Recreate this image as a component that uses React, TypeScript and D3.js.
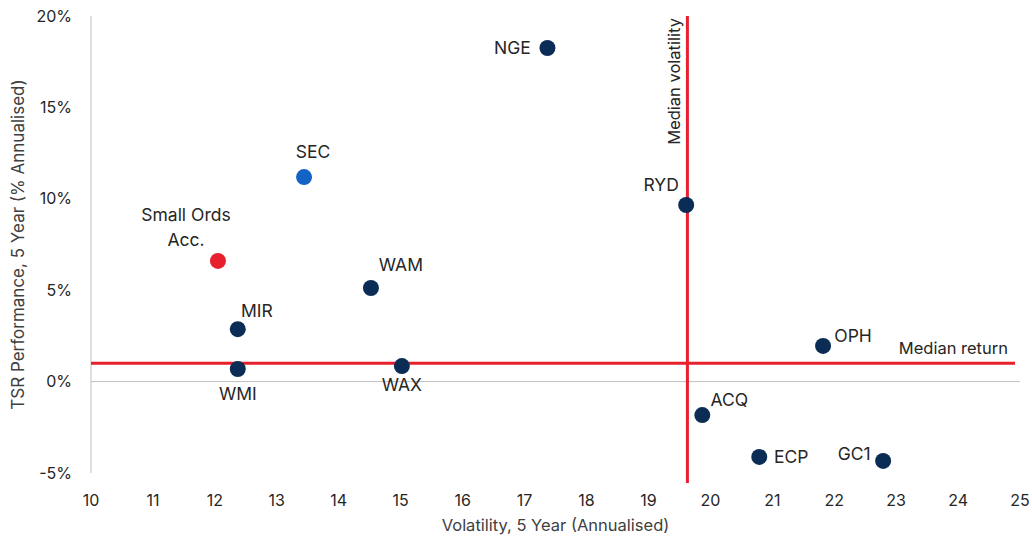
import React from "react";
import * as d3 from "d3";

const names = ["NGE", "SEC", "Small Ords Acc.", "WAM", "MIR", "WMI", "WAX", "RYD", "OPH", "ACQ", "ECP", "GC1"];
const volatility = [17.37, 13.44, 12.05, 14.52, 12.37, 12.37, 15.02, 19.61, 21.82, 19.87, 20.79, 22.79];
const tsr = [18.25, 11.19, 6.6, 5.12, 2.87, 0.69, 0.85, 9.66, 1.95, -1.83, -4.12, -4.34];
const kinds = ["peer", "sec", "index", "peer", "peer", "peer", "peer", "peer", "peer", "peer", "peer", "peer"];
const xTicks = [10, 11, 12, 13, 14, 15, 16, 17, 18, 19, 20, 21, 22, 23, 24, 25];
const yTicks = [-5, 0, 5, 10, 15, 20];
const medianVolatility = 19.63;
const medianReturn = 1.0;

const W = 1032, H = 540;
const colors: Record<string, string> = { peer: "#0B2C54", sec: "#1363C4", index: "#E8202E" };
// label offsets in px relative to the dot (layout only)
const labelPos: Record<string, { dx: number; dy: number }> = {
  "NGE": { dx: -35, dy: 0 },
  "SEC": { dx: 9, dy: -25 },
  "Small Ords Acc.": { dx: -32, dy: -46 },
  "WAM": { dx: 30, dy: -23 },
  "MIR": { dx: 19, dy: -18 },
  "WMI": { dx: 0, dy: 25 },
  "WAX": { dx: 0, dy: 19 },
  "RYD": { dx: -25, dy: -20 },
  "OPH": { dx: 30, dy: -10 },
  "ACQ": { dx: 27, dy: -15 },
  "ECP": { dx: 32, dy: 0 },
  "GC1": { dx: -29, dy: -7 },
};

export default function App() {
  const x = d3.scaleLinear().domain([10, 25]).range([91, 1020]);
  const y = d3.scaleLinear().domain([-5, 20]).range([473, 16]);
  const font = "Inter, 'Noto Sans', sans-serif";
  const textColor = "#262626";
  const labelSize = 17.5;
  return (
    <svg width={W} height={H} style={{ position: "absolute", left: 0, top: 0, background: "#fff" }} fontFamily={font}>
      <line x1={x(10)} x2={x(10)} y1={y(20)} y2={y(-5)} stroke="#BFBFBF" strokeWidth={1} />
      <line x1={x(10)} x2={x(25)} y1={y(0)} y2={y(0)} stroke="#BFBFBF" strokeWidth={1} />
      {yTicks.map((t) => (
        <text key={t} x={72} y={y(t)} dy="0.35em" textAnchor="end" fontSize={16} fill={textColor}>
          {String(t) + "%"}
        </text>
      ))}
      {xTicks.map((t) => (
        <text key={t} x={x(t)} y={500} dy="0.35em" textAnchor="middle" fontSize={16} fill={textColor}>
          {t}
        </text>
      ))}
      <text x={(x(10) + x(25)) / 2} y={525} dy="0.35em" textAnchor="middle" fontSize={16.5} fill="#404040">
        Volatility, 5 Year (Annualised)
      </text>
      <text transform={`translate(18,${(y(20) + y(-5)) / 2}) rotate(-90)`} dy="0.35em" textAnchor="middle" fontSize={17} fill="#404040">
        TSR Performance, 5 Year (% Annualised)
      </text>
      <line x1={x(10)} x2={x(25) - 5} y1={y(medianReturn)} y2={y(medianReturn)} stroke="#E8202E" strokeWidth={3} />
      <line x1={x(medianVolatility)} x2={x(medianVolatility)} y1={y(20)} y2={y(-5) + 10} stroke="#E8202E" strokeWidth={3} />
      <text x={1008} y={y(medianReturn) - 15} dy="0.35em" textAnchor="end" fontSize={16.5} fill={textColor}>
        Median return
      </text>
      <text transform={`translate(${x(medianVolatility) - 13},${y(20) + 2}) rotate(-90)`} dy="0.35em" textAnchor="end" fontSize={16.5} fill={textColor}>
        Median volatility
      </text>
      {names.map((n, i) => (
        <circle key={n} cx={x(volatility[i])} cy={y(tsr[i])} r={8} fill={colors[kinds[i]]} />
      ))}
      {names.map((n, i) => {
        const p = labelPos[n];
        const cx = x(volatility[i]) + p.dx;
        const cy = y(tsr[i]) + p.dy;
        if (n === "Small Ords Acc.") {
          return (
            <text key={n} x={cx} y={cy} textAnchor="middle" fontSize={labelSize} fill={textColor}>
              <tspan x={cx} dy="0.35em">Small Ords</tspan>
              <tspan x={cx} dy="1.45em">Acc.</tspan>
            </text>
          );
        }
        return (
          <text key={n} x={cx} y={cy} dy="0.35em" textAnchor="middle" fontSize={labelSize} fill={textColor}>
            {n}
          </text>
        );
      })}
    </svg>
  );
}
